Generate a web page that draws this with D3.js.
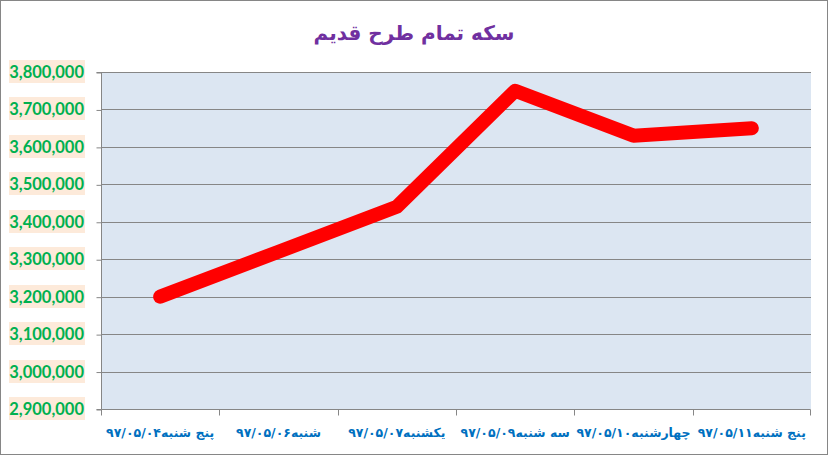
<!DOCTYPE html>
<html><head><meta charset="utf-8">
<script src="https://cdn.jsdelivr.net/npm/d3@7"></script>
<style>html,body{margin:0;padding:0;background:#fff;}svg{display:block;}</style>
</head><body>
<script>
const title = "سکه تمام طرح قدیم";
const categories = ["پنج شنبه۹۷/۰۵/۰۴","شنبه۹۷/۰۵/۰۶","یکشنبه۹۷/۰۵/۰۷","سه شنبه۹۷/۰۵/۰۹","چهارشنبه۹۷/۰۵/۱۰","پنج شنبه۹۷/۰۵/۱۱"];
const values = [3200000, 3320000, 3440000, 3750000, 3630000, 3650000];
const yTicks = [2900000,3000000,3100000,3200000,3300000,3400000,3500000,3600000,3700000,3800000];

const W = 828, H = 455;
const m = {left:101, right:811, top:72, bottom:409};
const svg = d3.select("body").append("svg").attr("width", W).attr("height", H);

svg.append("rect").attr("x",0.5).attr("y",0.5).attr("width",W-1).attr("height",H-1)
  .attr("fill","#fff").attr("stroke","#868686");

const x = d3.scaleBand().domain(categories).range([m.left, m.right]).padding(0);
const y = d3.scaleLinear().domain([2900000, 3800000]).range([m.bottom, m.top]);

svg.append("rect").attr("x",m.left).attr("y",m.top).attr("width",m.right-m.left).attr("height",m.bottom-m.top)
  .attr("fill","#DCE6F2");

// gridlines
svg.append("g").selectAll("line").data(yTicks.filter(d=>d>2900000)).join("line")
  .attr("x1",m.left).attr("x2",m.right).attr("y1",d=>Math.round(y(d))+0.5).attr("y2",d=>Math.round(y(d))+0.5)
  .attr("stroke","#868686").attr("stroke-width",1);

// y axis
const ya = svg.append("g").attr("transform",`translate(${m.left+0.5},0.5)`)
  .call(d3.axisLeft(y).tickValues(yTicks).tickSize(5).tickFormat(""));
ya.selectAll("path,line").attr("stroke","#868686");
ya.select(".domain").attr("d",`M-5,${Math.round(y(3800000))}H0V${Math.round(y(2900000))}H-5`);

// y labels with background
const fmt = d3.format(",");
const lab = svg.append("g");
yTicks.forEach(v=>{
  const cy = Math.round(y(v));
  lab.append("rect").attr("x",9).attr("y",cy-12).attr("width",76).attr("height",23).attr("fill","#FDEADA");
  lab.append("text").attr("x",84).attr("y",cy+6).attr("text-anchor","end")
    .attr("font-family","Lato, 'Open Sans', sans-serif").attr("font-weight","bold").attr("font-size",16.5)
    .attr("fill","#00B050").text(fmt(v));
});

// x axis
const xa = svg.append("g").attr("transform",`translate(0.5,${m.bottom+0.5})`)
  .call(d3.axisBottom(x).tickSize(0).tickFormat(""));
xa.select(".domain").attr("stroke","#868686").attr("d",`M${m.left},6V0H${m.right-1}V6`);
const bounds = categories.map(c=>x(c)).concat([m.right]);
xa.selectAll(".btick").data(bounds.slice(1,-1)).join("line").attr("class","btick")
  .attr("x1",d=>Math.round(d)).attr("x2",d=>Math.round(d)).attr("y1",0).attr("y2",6).attr("stroke","#868686");

svg.append("g").selectAll("text").data(categories).join("text")
  .attr("x",d=>x(d)+x.bandwidth()/2).attr("y",437)
  .attr("text-anchor","middle").attr("direction","rtl")
  .attr("font-family","'DejaVu Sans', sans-serif").attr("font-weight","bold").attr("font-size",12.5)
  .attr("fill","#0070C0").text(d=>d);

// line
const line = d3.line().x((d,i)=>x(categories[i])+x.bandwidth()/2).y(d=>y(d));
svg.append("path").datum(values).attr("d",line).attr("fill","none")
  .attr("stroke","#FF0000").attr("stroke-width",14).attr("stroke-linecap","round").attr("stroke-linejoin","round");

// title
svg.append("text").attr("x",414).attr("y",40).attr("text-anchor","middle").attr("direction","rtl")
  .attr("font-family","'DejaVu Sans', sans-serif").attr("font-weight","bold").attr("font-size",20)
  .attr("fill","#7030A0").text(title);
</script>
</body></html>
